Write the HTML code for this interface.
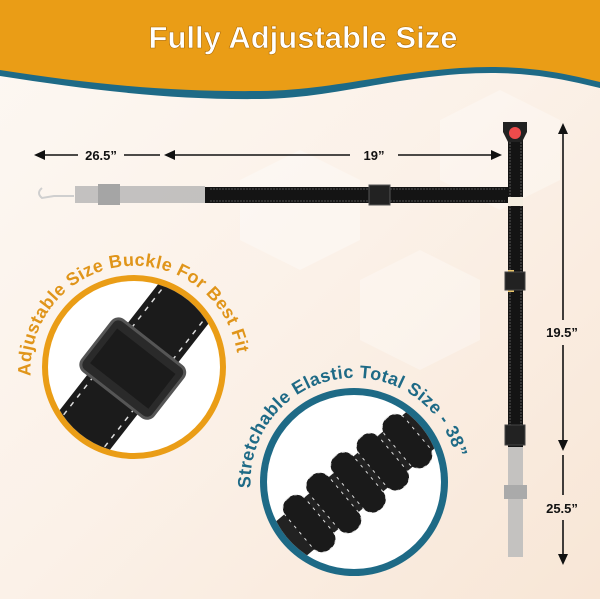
<!DOCTYPE html>
<html><head><meta charset="utf-8"><style>
html,body{margin:0;padding:0;width:600px;height:599px;overflow:hidden;background:#fbf2ea}
svg{display:block}
</style></head><body>
<svg width="600" height="599" viewBox="0 0 600 599" xmlns="http://www.w3.org/2000/svg" font-family="Liberation Sans, sans-serif">
<defs>
<linearGradient id="bg" x1="0" y1="0" x2="1" y2="1">
<stop offset="0" stop-color="#fdf8f3"/><stop offset="0.5" stop-color="#fbf1e8"/><stop offset="1" stop-color="#f8e6d6"/>
</linearGradient>
<clipPath id="c1"><circle cx="134" cy="367" r="86"/></clipPath>
<clipPath id="c2"><circle cx="354" cy="482" r="87"/></clipPath>
<path id="t1" d="M 31 380 A 104 104 0 1 1 238 380"/>
<path id="t2" d="M 251 492 A 104 104 0 1 1 458 492"/>
</defs>
<rect width="600" height="599" fill="url(#bg)"/>
<polygon points="300,150 360,180 360,240 300,270 240,240 240,180" fill="#fff" opacity="0.35"/>
<polygon points="420,250 480,280 480,340 420,370 360,340 360,280" fill="#fff" opacity="0.3"/>
<polygon points="500,90 560,120 560,180 500,210 440,180 440,120" fill="#fff" opacity="0.3"/>
<!-- header -->
<path d="M0 0 H600 V88 C560 78 520 70 460 74 C380 80 330 98 260 99 C170 100 90 90 0 76 Z" fill="#1e6a86"/>
<path d="M0 0 H600 V82 C560 72 520 64 460 68 C380 74 330 90 260 91 C170 92 90 84 0 70 Z" fill="#ea9d16"/>
<text x="303" y="48" text-anchor="middle" font-size="31" font-weight="bold" fill="#fff" stroke="#b06c05" stroke-width="0.6">Fully Adjustable Size</text>
<!-- dimension arrows -->
<g stroke="#111" stroke-width="1.6" fill="#111">
<line x1="42" y1="155" x2="78" y2="155"/><line x1="124" y1="155" x2="160" y2="155"/>
<line x1="172" y1="155" x2="350" y2="155"/><line x1="398" y1="155" x2="494" y2="155"/>
<line x1="563" y1="130" x2="563" y2="320"/><line x1="563" y1="345" x2="563" y2="445"/>
<line x1="563" y1="455" x2="563" y2="495"/><line x1="563" y1="520" x2="563" y2="555"/>
</g>
<g fill="#111">
<polygon points="34,155 45,150 45,160"/><polygon points="164,155 175,150 175,160"/>
<polygon points="502,155 491,150 491,160"/>
<polygon points="563,123 558,134 568,134"/><polygon points="563,451 558,440 568,440"/>
<polygon points="563,565 558,554 568,554"/>
</g>
<g font-weight="bold" font-size="13" fill="#111" text-anchor="middle">
<text x="101" y="160">26.5”</text><text x="374" y="160">19”</text>
<text x="562" y="337">19.5”</text><text x="562" y="513">25.5”</text>
</g>
<!-- horizontal strap -->
<path d="M42 188 q-6 5 0 10 l12 -2 l20 0" stroke="#cfcfcf" stroke-width="2" fill="none"/>
<rect x="75" y="186" width="130" height="17" fill="#b4b4b4" opacity="0.8"/>
<rect x="98" y="184" width="22" height="21" fill="#a5a5a5"/>
<rect x="205" y="187" width="303" height="16" fill="#141414"/>
<line x1="210" y1="189" x2="505" y2="189" stroke="#888" stroke-dasharray="2 1" stroke-width="0.6"/>
<line x1="210" y1="201" x2="505" y2="201" stroke="#888" stroke-dasharray="2 1" stroke-width="0.6"/>
<rect x="369" y="185" width="21" height="20" fill="#222" stroke="#555"/>
<!-- vertical strap -->
<rect x="508" y="140" width="15" height="307" fill="#141414"/>
<line x1="510" y1="142" x2="510" y2="445" stroke="#888" stroke-dasharray="2 1" stroke-width="0.6"/>
<line x1="521" y1="142" x2="521" y2="445" stroke="#888" stroke-dasharray="2 1" stroke-width="0.6"/>
<path d="M503 122 H527 V132 L522 142 H508 L503 132 Z" fill="#222"/>
<circle cx="515" cy="133" r="6" fill="#ee4b4b"/>
<rect x="508" y="197" width="15" height="9" fill="#f4ede0"/>
<rect x="508" y="270" width="6" height="22" fill="#e8c46a"/>
<rect x="505" y="272" width="20" height="18" fill="#222" stroke="#444"/>
<rect x="505" y="425" width="20" height="20" fill="#222" stroke="#444"/>
<rect x="508" y="447" width="15" height="110" fill="#bbb" opacity="0.85"/>
<rect x="504" y="485" width="23" height="14" fill="#aaa"/>
<!-- left circle -->
<circle cx="134" cy="367" r="92" fill="#ea9d16"/>
<circle cx="134" cy="367" r="86" fill="#fff"/>
<g clip-path="url(#c1)">
<g transform="rotate(-52 134 367)">
<rect x="20" y="335" width="230" height="64" fill="#1b1b1b"/>
<line x1="20" y1="341" x2="250" y2="341" stroke="#ddd" stroke-width="1.5" stroke-dasharray="5 6"/>
<line x1="20" y1="393" x2="250" y2="393" stroke="#ddd" stroke-width="1.5" stroke-dasharray="5 6"/>
<rect x="100" y="322" width="64" height="90" rx="8" fill="#2a2a2a" stroke="#555" stroke-width="3"/>
<rect x="110" y="330" width="44" height="74" fill="#1b1b1b"/>
</g>
</g>
<text font-size="18" font-weight="bold" fill="#e0951a" letter-spacing="0.4"><textPath href="#t1" startOffset="4">Adjustable Size Buckle For Best Fit</textPath></text>
<!-- right circle -->
<circle cx="354" cy="482" r="94" fill="#1e6a86"/>
<circle cx="354" cy="482" r="87" fill="#fff"/>
<g clip-path="url(#c2)">
<g transform="rotate(-40 354 482)">
<rect x="250" y="462" width="220" height="46" fill="#222"/>
<rect x="280" y="452" width="26" height="66" rx="12" fill="#1a1a1a" stroke="#ddd" stroke-dasharray="3 5"/>
<rect x="312" y="450" width="26" height="70" rx="12" fill="#1a1a1a" stroke="#ddd" stroke-dasharray="3 5"/>
<rect x="344" y="450" width="26" height="70" rx="12" fill="#1a1a1a" stroke="#ddd" stroke-dasharray="3 5"/>
<rect x="376" y="452" width="26" height="66" rx="12" fill="#1a1a1a" stroke="#ddd" stroke-dasharray="3 5"/>
<rect x="408" y="454" width="26" height="62" rx="12" fill="#1a1a1a" stroke="#ddd" stroke-dasharray="3 5"/>
</g>
</g>
<text font-size="18" font-weight="bold" fill="#1e6a86" letter-spacing="0.4"><textPath href="#t2" startOffset="4">Stretchable Elastic Total Size - 38”</textPath></text>
</svg>
</body></html>
